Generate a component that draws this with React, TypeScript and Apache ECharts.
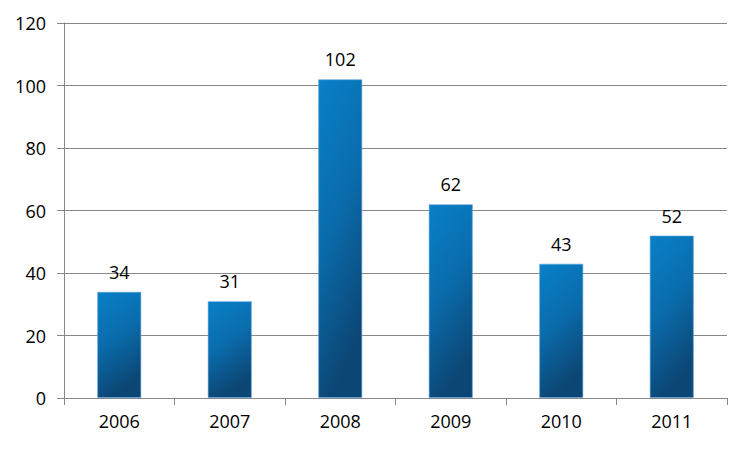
import React, { useEffect, useRef } from "react";
import * as echarts from "echarts";

const categories = ["2006", "2007", "2008", "2009", "2010", "2011"];
const values = [34, 31, 102, 62, 43, 52];
const yTicks = { min: 0, max: 120, interval: 20 };

export default function App() {
  const ref = useRef<HTMLDivElement>(null);
  useEffect(() => {
    const chart = echarts.init(ref.current!, null, { renderer: "svg" });
    const font = "'Open Sans', Lato, sans-serif";
    chart.setOption({
      animation: false,
      grid: { left: 64, right: 23, top: 23, bottom: 52 },
      xAxis: {
        type: "category",
        data: categories,
        axisLine: { lineStyle: { color: "#888", width: 1 } },
        axisTick: { show: true, length: 7, lineStyle: { color: "#888" } },
        axisLabel: { color: "#000", fontSize: 18, fontFamily: font, margin: 14 },
      },
      yAxis: {
        type: "value",
        min: yTicks.min,
        max: yTicks.max,
        interval: yTicks.interval,
        axisLine: { show: true, lineStyle: { color: "#888", width: 1 } },
        axisTick: { show: true, length: 7, lineStyle: { color: "#888" } },
        splitLine: { lineStyle: { color: "#888", width: 1 } },
        axisLabel: { color: "#000", fontSize: 18, fontFamily: font, margin: 18 },
      },
      series: [
        {
          type: "bar",
          data: values,
          barWidth: "40%",
          itemStyle: {
            borderColor: "rgba(90,160,220,0.6)",
            borderWidth: 1,
            color: new echarts.graphic.LinearGradient(0, 0, 0.3, 1, [
              { offset: 0, color: "#0880c8" },
              { offset: 0.5, color: "#0a6cac" },
              { offset: 1, color: "#0c4674" },
            ]),
          },
          label: {
            show: true,
            position: "top",
            distance: 11,
            color: "#000",
            fontSize: 18,
            fontFamily: font,
          },
        },
      ],
    });
    return () => chart.dispose();
  }, []);
  return <div ref={ref} style={{ width: 750, height: 450, position: "absolute", left: 0, top: 0 }} />;
}
